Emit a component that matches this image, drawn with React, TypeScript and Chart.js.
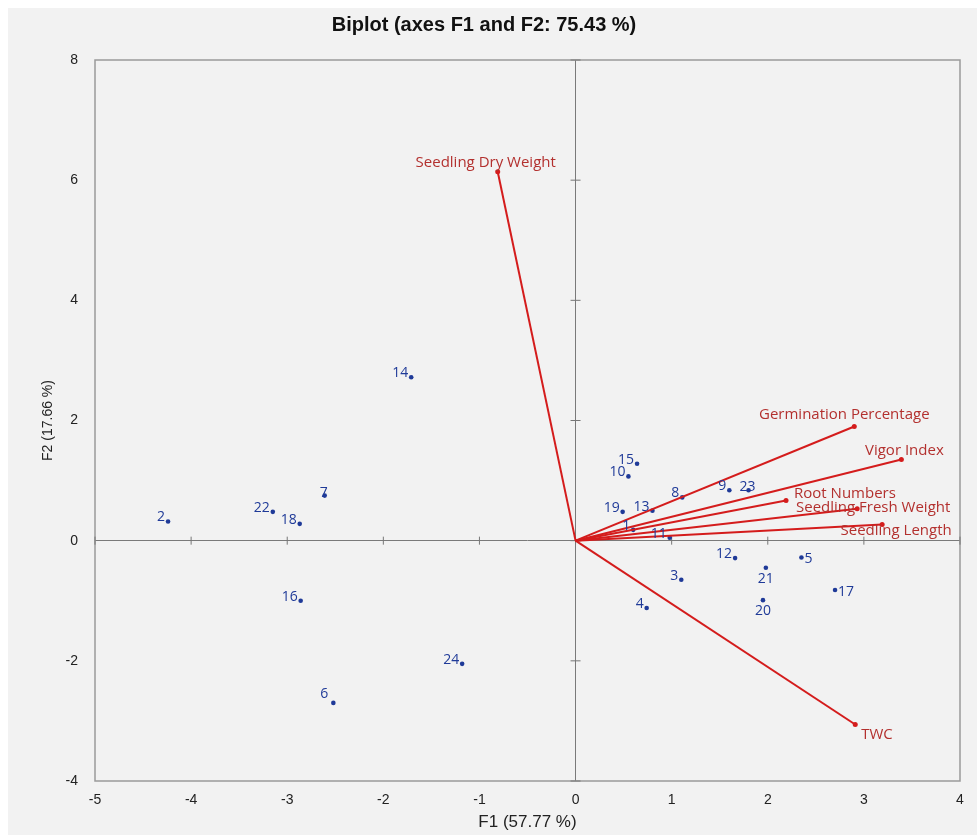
import React, { useEffect, useRef } from "react";
import { Chart, registerables } from "chart.js";

Chart.register(...registerables);

// ---- Data ----
const obsLabels = ["1","2","3","4","5","6","7","8","9","10","11","12","13","14","15","16","17","18","19","20","21","22","23","24"];
const obsF1 = [0.60, -4.24, 1.10, 0.74, 2.35, -2.52, -2.61, 1.11, 1.60, 0.55, 0.98, 1.66, 0.80, -1.71, 0.64, -2.86, 2.70, -2.87, 0.49, 1.95, 1.98, -3.15, 1.80, -1.18];
const obsF2 = [0.18, 0.32, -0.65, -1.12, -0.28, -2.70, 0.75, 0.72, 0.84, 1.07, 0.05, -0.29, 0.50, 2.72, 1.28, -1.00, -0.82, 0.28, 0.48, -0.99, -0.45, 0.48, 0.84, -2.05];

const varNames = ["Seedling Dry Weight", "Germination Percentage", "Vigor Index", "Root Numbers", "Seedling Fresh Weight", "Seedling Length", "TWC"];
const varF1 = [-0.81, 2.90, 3.39, 2.19, 2.93, 3.19, 2.91];
const varF2 = [6.14, 1.90, 1.35, 0.67, 0.53, 0.27, -3.06];

const xTicks = [-5, -4, -3, -2, -1, 0, 1, 2, 3, 4];
const yTicks = [-4, -2, 0, 2, 4, 6, 8];

const chartTitle = "Biplot (axes F1 and F2: 75.43 %)";
const xTitle = "F1 (57.77 %)";
const yTitle = "F2 (17.66 %)";

// ---- Label placement styles (not data) ----
const obsAnchor = ["left","left","left","left","right","aboveLeft","over","left","left","left","left","left","left","left","left","left","right","left","left","below","below","left","over","left"];
const varLabelStyle = [
  { dx: -12, dy: -9, align: "center" },
  { dx: -10, dy: -12, align: "center" },
  { dx: 3, dy: -9, align: "center" },
  { dx: 8, dy: -7, align: "left" },
  { dx: 16, dy: -1, align: "center" },
  { dx: 14, dy: 6, align: "center" },
  { dx: 6, dy: 10, align: "left" },
];

const BG = "#f2f2f2";
const BLUE = "#1f3a98";
const RED_LINE = "#d41c1c";
const RED_TEXT = "#b3302e";
const SANS = "'Liberation Sans', Arial, sans-serif";
const NUM_FONT = "14px 'Open Sans', 'Noto Sans', sans-serif";
const VAR_FONT = "15px 'Open Sans', 'Noto Sans', sans-serif";

const biplotPlugin = {
  id: "biplotDecor",
  beforeDraw(chart: any) {
    const { ctx, width, height } = chart;
    ctx.save();
    ctx.fillStyle = BG;
    ctx.fillRect(0, 0, width, height);
    ctx.restore();
  },
  beforeDatasetsDraw(chart: any) {
    const { ctx, chartArea, scales } = chart;
    const xs = scales.x, ys = scales.y;
    ctx.save();
    ctx.strokeStyle = "#9a9a9a";
    ctx.lineWidth = 1.5;
    ctx.strokeRect(chartArea.left, chartArea.top, chartArea.right - chartArea.left, chartArea.bottom - chartArea.top);
    // tick crosses on zero axes
    ctx.strokeStyle = "#777";
    ctx.lineWidth = 1;
    const x0 = xs.getPixelForValue(0);
    const y0 = ys.getPixelForValue(0);
    ctx.beginPath();
    yTicks.forEach((v) => {
      const py = ys.getPixelForValue(v);
      ctx.moveTo(x0 - 5, py);
      ctx.lineTo(x0 + 5, py);
    });
    xTicks.forEach((v) => {
      const px = xs.getPixelForValue(v);
      ctx.moveTo(px, y0 - 4);
      ctx.lineTo(px, y0 + 4);
    });
    ctx.stroke();
    ctx.restore();
  },
  afterDatasetsDraw(chart: any) {
    const { ctx, scales } = chart;
    const xs = scales.x, ys = scales.y;
    ctx.save();
    ctx.textBaseline = "middle";
    // observation labels
    ctx.font = NUM_FONT;
    ctx.fillStyle = BLUE;
    obsLabels.forEach((lab, i) => {
      const px = xs.getPixelForValue(obsF1[i]);
      const py = ys.getPixelForValue(obsF2[i]);
      const a = obsAnchor[i];
      if (a === "left") {
        ctx.textAlign = "right";
        ctx.fillText(lab, px - 3, py - 4);
      } else if (a === "right") {
        ctx.textAlign = "left";
        ctx.fillText(lab, px + 3, py + 2);
      } else if (a === "below") {
        ctx.textAlign = "center";
        ctx.fillText(lab, px, py + 11);
      } else if (a === "over") {
        ctx.textAlign = "center";
        ctx.fillText(lab, px - 1, py - 3);
      } else {
        ctx.textAlign = "center";
        ctx.fillText(lab, px - 9, py - 9);
      }
    });
    // variable labels
    ctx.font = VAR_FONT;
    ctx.fillStyle = RED_TEXT;
    varNames.forEach((name, i) => {
      const px = xs.getPixelForValue(varF1[i]);
      const py = ys.getPixelForValue(varF2[i]);
      const s = varLabelStyle[i];
      ctx.textAlign = s.align as CanvasTextAlign;
      ctx.fillText(name, px + s.dx, py + s.dy);
    });
    ctx.restore();
  },
};

export default function App() {
  const canvasRef = useRef<HTMLCanvasElement | null>(null);

  useEffect(() => {
    const canvas = canvasRef.current;
    if (!canvas) return;

    const datasets: any[] = [];
    varNames.forEach((name, i) => {
      datasets.push({
        type: "scatter",
        label: name,
        data: [{ x: 0, y: 0 }, { x: varF1[i], y: varF2[i] }],
        showLine: true,
        borderColor: RED_LINE,
        backgroundColor: RED_LINE,
        borderWidth: 2,
        pointRadius: [0, 2.5],
        pointBackgroundColor: RED_LINE,
        pointBorderWidth: 0,
      });
    });
    datasets.push({
      type: "scatter",
      label: "Observations",
      data: obsF1.map((x, i) => ({ x, y: obsF2[i] })),
      pointRadius: 2.3,
      pointBackgroundColor: BLUE,
      pointBorderWidth: 0,
      backgroundColor: BLUE,
    });

    const chart = new Chart(canvas, {
      type: "scatter",
      data: { datasets },
      options: {
        animation: false,
        responsive: false,
        devicePixelRatio: 1,
        layout: { padding: { left: 0, right: 17, top: 0, bottom: 0 } },
        plugins: {
          legend: { display: false },
          tooltip: { enabled: false },
          title: {
            display: true,
            text: chartTitle,
            color: "#111",
            font: { family: SANS, size: 20, weight: "bold", lineHeight: 1.2 },
            padding: { top: 5, bottom: 23 },
          },
        },
        scales: {
          x: {
            type: "linear",
            min: -5,
            max: 4,
            afterBuildTicks: (scale: any) => {
              scale.ticks = xTicks.map((v) => ({ value: v }));
            },
            afterFit: (scale: any) => {
              scale.height = 54;
            },
            border: { display: false },
            grid: {
              drawTicks: false,
              color: (c: any) => (c.tick && c.tick.value === 0 ? "#7a7a7a" : "rgba(0,0,0,0)"),
              lineWidth: 1,
            },
            ticks: {
              padding: 11,
              color: "#222",
              font: { family: SANS, size: 14 },
              callback: (v: any) => String(v),
            },
            title: {
              display: true,
              text: xTitle,
              color: "#222",
              font: { family: SANS, size: 17, lineHeight: 1.2 },
              padding: { top: 0, bottom: 2 },
            },
          },
          y: {
            type: "linear",
            min: -4,
            max: 8,
            afterBuildTicks: (scale: any) => {
              scale.ticks = yTicks.map((v) => ({ value: v }));
            },
            afterFit: (scale: any) => {
              scale.width = 87;
            },
            border: { display: false },
            grid: {
              drawTicks: false,
              color: (c: any) => (c.tick && c.tick.value === 0 ? "#7a7a7a" : "rgba(0,0,0,0)"),
              lineWidth: 1,
            },
            ticks: {
              padding: 17,
              color: "#222",
              font: { family: SANS, size: 14 },
              callback: (v: any) => String(v),
            },
            title: {
              display: true,
              text: yTitle,
              color: "#222",
              font: { family: SANS, size: 14, lineHeight: 1.2 },
              padding: { top: 32, bottom: 0 },
            },
          },
        },
      },
      plugins: [biplotPlugin],
    } as any);

    return () => {
      chart.destroy();
    };
  }, []);

  return (
    <div style={{ position: "fixed", left: 8, top: 8, width: 969, height: 827, background: BG }}>
      <canvas ref={canvasRef} width={969} height={827} style={{ display: "block", width: 969, height: 827 }} />
    </div>
  );
}
